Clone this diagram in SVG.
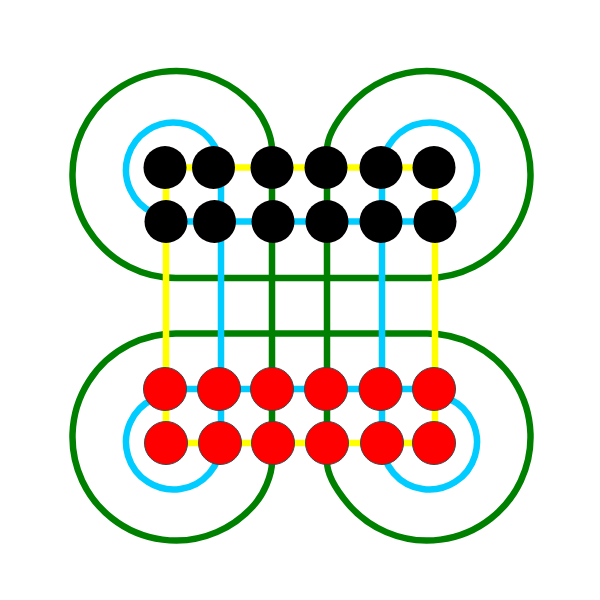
<svg xmlns="http://www.w3.org/2000/svg" width="600" height="600" viewBox="0 0 600 600">
<style>
.edge{fill:none;stroke-width:6.5;stroke-linejoin:round}
.g{stroke:#008000}
.c{stroke:#00ccff}
.y{stroke:#ffff00}
.top circle{fill:#000000}
.bot circle{fill:#ff0000;stroke:#444444;stroke-width:1}
</style>
<rect width="600" height="600" fill="#ffffff"/>
<g id="connectors">
<path class="edge g" d="M 272 167.5 L 272 150 C 272 135 263 117.2 255.3 108 A 103.5 103.5 0 1 0 176 278 L 427 278 A 103.5 103.5 0 1 0 347.7 108 C 340 117.2 327 135 327 150 L 327 461.5 C 327 476.5 340 494.3 347.7 503.5 A 103.5 103.5 0 1 0 427 333.5 L 176 333.5 A 103.5 103.5 0 1 0 255.3 503.5 C 263 494.3 272 476.5 272 461.5 Z"/>
<path class="edge c" d="M 165 389 L 153.4 399 A 47.5 47.5 0 1 0 221 442 L 221 170 A 47.5 47.5 0 1 0 153.4 213 L 166 221.5 L 435 221.5 L 449.6 213 A 47.5 47.5 0 1 0 382 170 L 382 442 A 47.5 47.5 0 1 0 449.6 399 L 434 389 Z"/>
<path class="edge y" d="M 166 167.5 H 435 V 443 H 166 Z"/>
</g>
<g class="top">
<g id="t1"><circle cx="165" cy="167.5" r="21.5"/></g>
<g id="t2"><circle cx="213.5" cy="167.5" r="21.5"/></g>
<g id="t3"><circle cx="272" cy="167.5" r="21.5"/></g>
<g id="t4"><circle cx="326" cy="167.5" r="21.5"/></g>
<g id="t5"><circle cx="381" cy="167.5" r="21.5"/></g>
<g id="t6"><circle cx="434" cy="167.5" r="21.5"/></g>
<g id="t7"><circle cx="166" cy="221.5" r="21.5"/></g>
<g id="t8"><circle cx="214.5" cy="221.5" r="21.5"/></g>
<g id="t9"><circle cx="273" cy="221.5" r="21.5"/></g>
<g id="t10"><circle cx="327" cy="221.5" r="21.5"/></g>
<g id="t11"><circle cx="381" cy="221.5" r="21.5"/></g>
<g id="t12"><circle cx="435" cy="221.5" r="21.5"/></g>
</g>
<g class="bot">
<g id="b1"><circle cx="165" cy="389" r="21.5"/></g>
<g id="b2"><circle cx="219" cy="389" r="21.5"/></g>
<g id="b3"><circle cx="272" cy="389" r="21.5"/></g>
<g id="b4"><circle cx="326" cy="389" r="21.5"/></g>
<g id="b5"><circle cx="380.5" cy="389" r="21.5"/></g>
<g id="b6"><circle cx="434" cy="389" r="21.5"/></g>
<g id="b7"><circle cx="166" cy="443" r="21.5"/></g>
<g id="b8"><circle cx="220" cy="443" r="21.5"/></g>
<g id="b9"><circle cx="273" cy="443" r="21.5"/></g>
<g id="b10"><circle cx="327" cy="443" r="21.5"/></g>
<g id="b11"><circle cx="382" cy="443" r="21.5"/></g>
<g id="b12"><circle cx="434" cy="443" r="21.5"/></g>
</g>
</svg>
